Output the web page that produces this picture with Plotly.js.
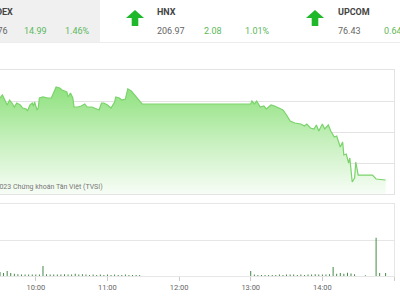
<!DOCTYPE html>
<html><head><meta charset="utf-8">
<script src="https://cdn.plot.ly/plotly-3.0.1.min.js"></script>
<style>html,body{margin:0;padding:0;background:#fff}#c{width:400px;height:300px}</style>
</head><body><div id="c"></div>
<script>
const day = "2023-06-01 ";
const lineTimes = ["09:30","09:32","09:36","09:38","09:40","09:42","09:44","09:47","09:49","09:52","09:53","09:55","09:57","09:58","09:59","10:01","10:02","10:03","10:06","10:10","10:13","10:16","10:17","10:20","10:22","10:26","10:27","10:29","10:31","10:32","10:35","10:38","10:41","10:43","10:47","10:51","10:53","10:55","10:57","11:00","11:03","11:06","11:07","11:10","11:12","11:15","11:17","11:20","11:22","11:25","11:27","11:29","13:00","13:01","13:03","13:05","13:08","13:11","13:13","13:17","13:20","13:23","13:27","13:30","13:33","13:37","13:42","13:45","13:47","13:50","13:53","13:55","13:57","14:00","14:02","14:05","14:07","14:10","14:12","14:15","14:17","14:18","14:20","14:22","14:23","14:25","14:27","14:28","14:30","14:42","14:45","14:53"];
const indexValues = [1055.48,1055.97,1054.35,1055.16,1054.68,1054.03,1054.68,1054.35,1053.87,1053.71,1053.39,1054.35,1054.68,1054.19,1054.84,1053.55,1053.87,1055.48,1055.65,1055.48,1055.48,1056.77,1057.26,1057.10,1056.77,1056.45,1055.65,1056.29,1055.48,1054.03,1054.03,1054.19,1054.52,1054.03,1054.03,1053.71,1053.55,1054.68,1054.68,1054.35,1053.87,1054.84,1055.65,1055.48,1055.16,1055.32,1056.94,1056.61,1056.13,1055.48,1054.84,1054.52,1054.52,1055.00,1054.52,1055.00,1054.03,1054.19,1053.71,1054.35,1054.19,1053.87,1053.55,1052.74,1051.77,1051.45,1051.29,1050.97,1051.29,1050.65,1050.48,1051.13,1050.16,1051.29,1050.48,1051.13,1050.16,1049.19,1049.35,1047.58,1048.39,1046.29,1046.45,1045.00,1045.81,1041.94,1042.58,1045.16,1043.06,1043.06,1042.42,1042.26];
const volTimes = ["09:30","09:33","09:36","09:39","09:42","09:45","09:48","09:51","09:54","09:57","10:00","10:03","10:06","10:09","10:12","10:15","10:18","10:21","10:24","10:27","10:30","10:33","10:36","10:39","10:42","10:45","10:48","10:51","10:54","10:57","11:00","11:03","11:06","11:09","11:12","11:15","11:18","11:21","11:24","11:27","13:00","13:03","13:06","13:09","13:12","13:15","13:18","13:21","13:24","13:27","13:30","13:33","13:36","13:39","13:42","13:45","13:48","13:51","13:54","13:57","14:00","14:03","14:06","14:09","14:12","14:15","14:18","14:21","14:24","14:27","14:36","14:45","14:48","14:53"];
const volValues = [0.11,0.08,0.14,0.08,0.06,0.05,0.04,0.04,0.04,0.04,0.04,0.04,0.28,0.05,0.04,0.04,0.04,0.04,0.05,0.04,0.04,0.06,0.04,0.05,0.04,0.03,0.04,0.03,0.04,0.03,0.04,0.03,0.04,0.03,0.03,0.04,0.03,0.03,0.03,0.03,0.14,0.04,0.03,0.03,0.03,0.03,0.03,0.03,0.04,0.03,0.04,0.04,0.04,0.03,0.04,0.03,0.04,0.04,0.05,0.04,0.04,0.04,0.05,0.25,0.06,0.08,0.06,0.09,0.07,0.05,0.02,1.06,0.08,0.08];
const tickLabels = ["10:00","11:00","12:00","13:00","14:00","15:00"];
const header = [
  {name:"VNINDEX", value:"1,041.76", change:"14.99", pct:"1.46%"},
  {name:"HNX", value:"206.97", change:"2.08", pct:"1.01%"},
  {name:"UPCOM", value:"76.43", change:"0.64", pct:"0.64%"}
];

const W = 400, H = 300;
const px = x => x / W, py = y => 1 - y / H;
const green = "#5cb85c";
const ann = [];
const txt = (x, y, t, o) => ann.push(Object.assign({xref:"paper", yref:"paper", x:px(x), y:py(y), text:t, showarrow:false, xanchor:"left", yanchor:"middle", font:{family:"Roboto", size:9, color:"#666"}}, o||{}));
// VNINDEX (cut off at left)
txt(15, 12, "<b>"+header[0].name+"</b>", {xanchor:"right", font:{family:"Roboto", size:9, color:"#444"}});
txt(10, 31, header[0].value, {xanchor:"right"});
txt(22, 31, header[0].change, {font:{family:"Roboto", size:9, color:green}});
txt(92, 31, header[0].pct, {xanchor:"right", font:{family:"Roboto", size:9, color:green}});
// HNX
txt(155, 12, "<b>"+header[1].name+"</b>", {font:{family:"Roboto", size:9, color:"#444"}});
txt(155, 31, header[1].value);
txt(202, 31, header[1].change, {font:{family:"Roboto", size:9, color:green}});
txt(272, 31, header[1].pct, {xanchor:"right", font:{family:"Roboto", size:9, color:green}});
// UPCOM
txt(336, 12, "<b>"+header[2].name+"</b>", {font:{family:"Roboto", size:9, color:"#444"}});
txt(336, 31, header[2].value);
txt(382, 31, header[2].pct, {font:{family:"Roboto", size:9, color:green}});
// credits
txt(105, 187, "©2023 Chứng khoán Tân Việt (TVSI)", {xanchor:"right", font:{family:"Roboto", size:7, color:"#777"}});

function arrow(cx, top, bottom) {
  const hw = 9, sw = 3.3, mid = top + 8;
  const pts = [[cx, top],[cx+hw, mid],[cx+sw, mid],[cx+sw, bottom],[cx-sw, bottom],[cx-sw, mid],[cx-hw, mid]];
  return {type:"path", xref:"paper", yref:"paper", path:"M"+pts.map(p=>px(p[0])+","+py(p[1])).join(" L")+" Z", fillcolor:"#1fb82b", line:{width:0}};
}
const shapes = [
  {type:"rect", xref:"paper", yref:"paper", x0:px(-5), x1:px(100), y0:py(0), y1:py(42), fillcolor:"#f0f0f0", line:{width:0}, layer:"below"},
  {type:"line", xref:"paper", yref:"paper", x0:0, x1:1, y0:py(42.5), y1:py(42.5), line:{color:"#ececec", width:1}},
  arrow(135, 10, 26),
  arrow(315, 10, 26)
];

const xs = lineTimes.map(t => day + t);
const traces = [
  {type:"scatter", mode:"lines", x:xs, y:indexValues, xaxis:"x", yaxis:"y",
   line:{color:"#7ad36b", width:1.2}, fill:"tozeroy",
   fillgradient:{type:"vertical", start:1040, stop:1057.3, colorscale:[[0,"#f7fdf6"],[0.5,"#c6f0bd"],[1,"#8ee17d"]]},
   hoverinfo:"skip"},
  {type:"bar", x:volTimes.map(t => day + t), y:volValues, xaxis:"x2", yaxis:"y2",
   marker:{color:"#2f7d33", line:{width:0}}, width:45000, hoverinfo:"skip"}
];
const xr = [day + "09:30", day + "15:00"];
const layout = {
  width:W, height:H, margin:{l:0, r:0, t:0, b:0}, paper_bgcolor:"#fff", plot_bgcolor:"rgba(0,0,0,0)",
  showlegend:false, font:{family:"Roboto"},
  xaxis:{type:"date", domain:[0, px(394)], range:xr, anchor:"y", showgrid:false, showticklabels:false, showline:true, mirror:true, linecolor:"#e3e3e3", zeroline:false, ticks:""},
  yaxis:{domain:[py(194), py(70)], range:[1040, 1060], dtick:5, side:"right", showticklabels:false, gridcolor:"#e3e3e3", showline:true, linecolor:"#e3e3e3", zeroline:false},
  xaxis2:{type:"date", domain:[0, px(394)], range:xr, anchor:"y2", showgrid:false, showline:true, mirror:true, linecolor:"#e6e6e6", zeroline:false,
    tickmode:"array", tickvals:tickLabels.map(t => day + t), ticktext:tickLabels, ticks:"outside", ticklen:4, tickcolor:"#ccc",
    tickfont:{family:"Roboto", size:7.5, color:"#666"}},
  yaxis2:{domain:[py(276), py(204)], range:[0, 2], dtick:1, side:"right", showticklabels:false, gridcolor:"#e6e6e6", showline:true, linecolor:"#e6e6e6", zeroline:false},
  annotations:ann, shapes:shapes
};
Plotly.newPlot("c", traces, layout, {staticPlot:true, displayModeBar:false});
</script></body></html>
